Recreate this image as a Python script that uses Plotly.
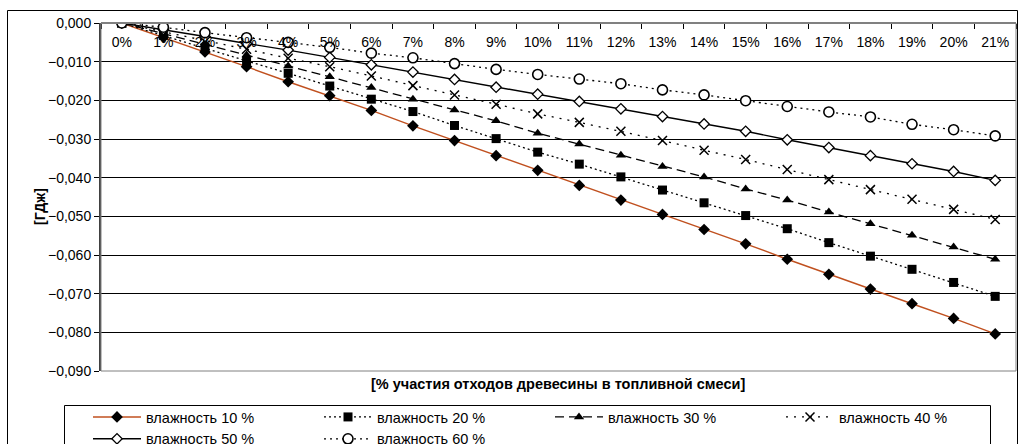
import plotly.graph_objects as go

categories = [f"{i}%" for i in range(22)]

series_names = ["влажность 10 %", "влажность 20 %", "влажность 30 %",
                "влажность 40 %", "влажность 50 %", "влажность 60 %"]

v10 = [0, -0.0037, -0.0075, -0.0113, -0.0152, -0.0188, -0.0226, -0.0266, -0.0304, -0.0343,
       -0.0381, -0.0420, -0.0458, -0.0495, -0.0534, -0.0571, -0.0611, -0.0650, -0.0688,
       -0.0726, -0.0764, -0.0804]
v20 = [0, -0.0032, -0.0065, -0.0098, -0.0130, -0.0163, -0.0197, -0.0229, -0.0265, -0.0299,
       -0.0334, -0.0365, -0.0398, -0.0432, -0.0465, -0.0498, -0.0532, -0.0568, -0.0603,
       -0.0637, -0.0671, -0.0707]
v30 = [0, -0.0027, -0.0055, -0.0083, -0.0111, -0.0139, -0.0167, -0.0197, -0.0225, -0.0253,
       -0.0285, -0.0313, -0.0342, -0.0371, -0.0398, -0.0429, -0.0458, -0.0489, -0.0519,
       -0.0549, -0.0579, -0.0611]
v40 = [0, -0.0022, -0.0045, -0.0068, -0.0091, -0.0113, -0.0137, -0.0162, -0.0186, -0.0210,
       -0.0235, -0.0257, -0.0280, -0.0304, -0.0329, -0.0353, -0.0379, -0.0405, -0.0431,
       -0.0456, -0.0482, -0.0508]
v50 = [0, -0.0017, -0.0035, -0.0053, -0.0070, -0.0089, -0.0108, -0.0127, -0.0146, -0.0166,
       -0.0184, -0.0203, -0.0222, -0.0242, -0.0261, -0.0280, -0.0302, -0.0322, -0.0343,
       -0.0364, -0.0384, -0.0407]
v60 = [0, -0.0011, -0.0025, -0.0038, -0.0050, -0.0063, -0.0078, -0.0090, -0.0105, -0.0120,
       -0.0133, -0.0145, -0.0157, -0.0173, -0.0186, -0.0201, -0.0216, -0.0230, -0.0243,
       -0.0262, -0.0276, -0.0292]

y_ticks = [0, -0.01, -0.02, -0.03, -0.04, -0.05, -0.06, -0.07, -0.08, -0.09]

FONT = "Liberation Sans, Arial, sans-serif"

styles = [
    dict(line=dict(color="#C0501F", width=1.4, dash="solid"),
         marker=dict(symbol="diamond", size=9, color="black")),
    dict(line=dict(color="black", width=1.3, dash="2px,3px"),
         marker=dict(symbol="square", size=9, color="black")),
    dict(line=dict(color="black", width=1.3, dash="9px,5px"),
         marker=dict(symbol="triangle-up", size=9, color="black")),
    dict(line=dict(color="black", width=1.3, dash="2px,6px"),
         marker=dict(symbol="x-thin", size=9, color="black",
                     line=dict(color="black", width=1.5))),
    dict(line=dict(color="black", width=1.4, dash="solid"),
         marker=dict(symbol="diamond", size=8, color="white",
                     line=dict(color="black", width=1.3))),
    dict(line=dict(color="black", width=1.3, dash="2px,4px"),
         marker=dict(symbol="circle", size=10, color="white",
                     line=dict(color="black", width=1.6))),
]

fig = go.Figure()
for name, vals, st in zip(series_names, [v10, v20, v30, v40, v50, v60], styles):
    fig.add_trace(go.Scatter(x=categories, y=vals, name=name, mode="lines+markers",
                             line=st["line"], marker=st["marker"]))

W, H = 1019, 444
L, R, T, B = 101, 1016, 23, 371
pw, ph = R - L, B - T


def px(x):
    return (x - L) / pw


def py(y):
    return (B - y) / ph


fig.update_layout(
    width=W, height=H,
    margin=dict(l=L, r=W - R, t=T, b=H - B, autoexpand=False),
    paper_bgcolor="white", plot_bgcolor="white",
    separators=", ",
    font=dict(family=FONT, size=13, color="black"),
    showlegend=True,
    legend=dict(orientation="h", xref="paper", yref="paper",
                x=px(88), y=py(401), xanchor="left", yanchor="top",
                borderwidth=0, bgcolor="rgba(0,0,0,0)",
                font=dict(family=FONT, size=14.5, color="black"),
                entrywidth=168, entrywidthmode="pixels",
                traceorder="normal", itemwidth=48),
    xaxis=dict(type="category", categoryorder="array", categoryarray=categories,
               range=[-0.5, 21.5], anchor="free", position=1, side="bottom",
               ticks="outside", tickson="boundaries", ticklen=5, tickcolor="black",
               ticklabelstandoff=6, showgrid=False,
               showline=True, linecolor="#808080", automargin=False,
               linewidth=2, tickfont=dict(family=FONT, size=14), zeroline=False),
    yaxis=dict(range=[-0.09, 0], tickvals=y_ticks, tickformat=".3f",
               showgrid=True, gridcolor="black", gridwidth=1,
               ticks="outside", ticklen=5, tickcolor="black",
               showline=True, linecolor="#404040", linewidth=2, automargin=False,
               zeroline=False, tickfont=dict(family=FONT, size=14)),
)

# plot area border
fig.add_shape(type="rect", xref="paper", yref="paper", x0=0, x1=1, y0=0, y1=1,
              line=dict(color="#808080", width=1), layer="above")
# outer chart border
fig.add_shape(type="rect", xref="paper", yref="paper",
              x0=px(7.5), x1=px(1017.5), y0=py(470), y1=py(10.5),
              line=dict(color="black", width=1), layer="above")
# legend frame
fig.add_shape(type="rect", xref="paper", yref="paper",
              x0=px(64.5), x1=px(990.5), y0=py(460), y1=py(405.5),
              line=dict(color="black", width=1), layer="above")

fig.add_annotation(text="<b>[% участия отходов древесины в топливной смеси]</b>",
                   xref="paper", yref="paper", x=px(558), y=py(384),
                   xanchor="center", yanchor="middle",
                   showarrow=False, font=dict(family=FONT, size=14.5))
fig.add_annotation(text="<b>[ГДж]</b>", xref="paper", yref="paper",
                   x=px(40), y=py(207), textangle=-90, xanchor="center", yanchor="middle",
                   showarrow=False, font=dict(family=FONT, size=14))

fig.write_html("out.html", config={"displayModeBar": False},
               post_script="document.body.style.margin='0';")
